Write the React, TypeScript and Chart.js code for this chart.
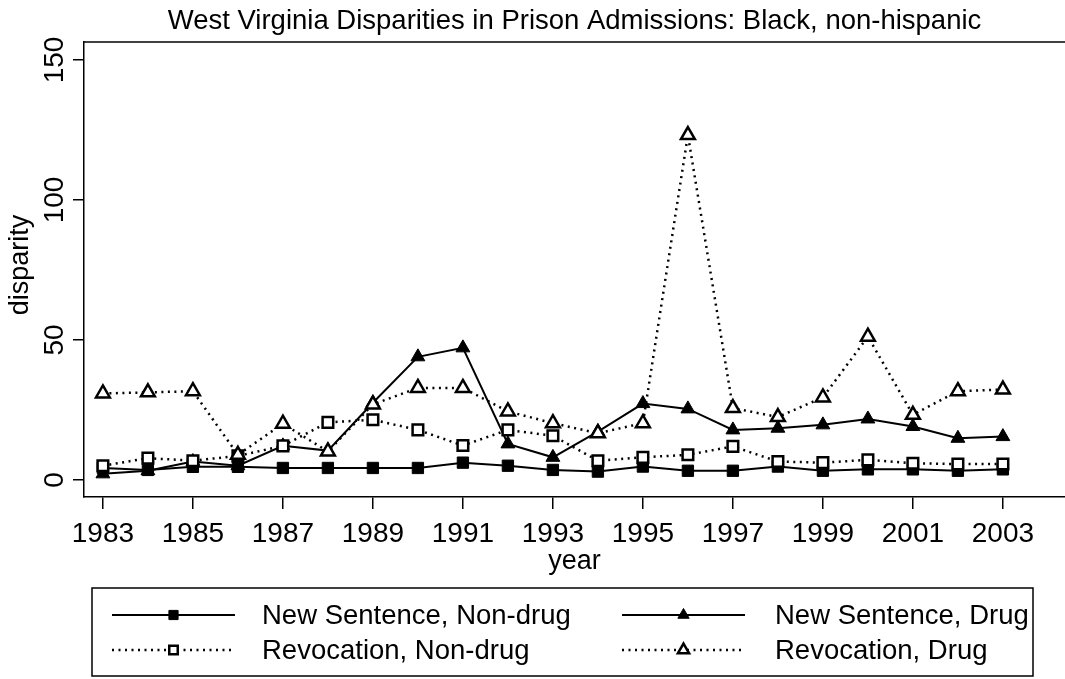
import { useEffect, useRef } from "react";
import { Chart, registerables } from "chart.js";
import { drawPoint } from "chart.js/helpers";

Chart.register(...registerables);

const chartTitle = "West Virginia Disparities in Prison Admissions: Black, non-hispanic";
const xAxisTitle = "year";
const yAxisTitle = "disparity";

const years = [
  1983, 1984, 1985, 1986, 1987, 1988, 1989, 1990, 1991, 1992, 1993,
  1994, 1995, 1996, 1997, 1998, 1999, 2000, 2001, 2002, 2003,
];
const newSentenceNonDrug = [
  4.3, 3.6, 4.7, 4.7, 4.3, 4.3, 4.3, 4.3, 6.2, 5.1, 3.6,
  3.0, 4.8, 3.3, 3.3, 4.8, 3.3, 3.8, 3.8, 3.3, 3.8,
];
const newSentenceDrug = [
  2.2, 3.3, 6.6, 5.1, 12.2, 10.5, 27.6, 44.0, 47.2, 12.9, 8.1,
  17.3, 27.3, 25.4, 17.9, 18.5, 19.7, 21.8, 19.1, 14.9, 15.5,
];
const revocationNonDrug = [
  5.1, 7.8, 6.9, 8.6, 12.2, 20.6, 21.5, 17.9, 12.3, 17.9, 15.8,
  6.9, 8.1, 9.0, 12.0, 6.6, 6.2, 7.2, 6.0, 5.7, 5.7,
];
const revocationDrug = [
  30.9, 31.3, 31.7, 9.0, 20.1, 10.2, 27.0, 32.9, 32.9, 24.5, 20.3,
  16.7, 20.3, 123.2, 25.7, 22.5, 29.5, 51.2, 23.3, 31.7, 32.3,
];
const seriesLabels = [
  "New Sentence, Non-drug",
  "New Sentence, Drug",
  "Revocation, Non-drug",
  "Revocation, Drug",
];
const xTicks = [1983, 1985, 1987, 1989, 1991, 1993, 1995, 1997, 1999, 2001, 2003];
const yTicks = [0, 50, 100, 150];

const FONT = '"Liberation Sans", Arial, Helvetica, sans-serif';

const decorPlugin = {
  id: "decor",
  afterDraw(chart: any) {
    const ctx = chart.ctx as CanvasRenderingContext2D;
    const area = chart.chartArea;
    const xs = chart.scales.x;
    const ys = chart.scales.y;
    ctx.save();

    // keep the right side of the plot region open (no frame line there)
    ctx.fillStyle = "#fff";
    ctx.fillRect(area.right - 4, area.top + 1, chart.width - area.right + 8, area.bottom - area.top - 2);

    ctx.fillStyle = "#000";
    ctx.strokeStyle = "#000";

    // top frame line
    ctx.lineWidth = 1.5;
    ctx.beginPath();
    ctx.moveTo(area.left, area.top);
    ctx.lineTo(chart.width, area.top);
    ctx.stroke();

    const cx = (area.left + chart.width) / 2;

    // title
    ctx.font = `27.5px ${FONT}`;
    ctx.textAlign = "center";
    ctx.textBaseline = "alphabetic";
    ctx.fillText(chartTitle, cx, 29);

    // x tick labels
    ctx.font = `28px ${FONT}`;
    xTicks.forEach((v) => {
      ctx.fillText(String(v), xs.getPixelForValue(v), 542);
    });

    // x title
    ctx.font = `27px ${FONT}`;
    ctx.fillText(xAxisTitle, cx, 569);

    // y tick labels (rotated)
    ctx.font = `28px ${FONT}`;
    yTicks.forEach((v) => {
      ctx.save();
      ctx.translate(63, ys.getPixelForValue(v));
      ctx.rotate(-Math.PI / 2);
      ctx.fillText(String(v), 0, 0);
      ctx.restore();
    });

    // y title
    ctx.save();
    ctx.font = `27px ${FONT}`;
    ctx.translate(28, 265);
    ctx.rotate(-Math.PI / 2);
    ctx.fillText(yAxisTitle, 0, 0);
    ctx.restore();

    // legend
    const boxL = 92, boxR = 1033, boxT = 588, boxB = 676;
    ctx.lineWidth = 1.5;
    ctx.strokeRect(boxL, boxT, boxR - boxL, boxB - boxT);
    const rowsY = [615, 650];
    const colKeyStart = [112, 622];
    const keyLen = 123;
    const colText = [262, 775];
    ctx.font = `27.5px ${FONT}`;
    ctx.textAlign = "left";
    ctx.textBaseline = "middle";
    chart.data.datasets.forEach((ds: any, i: number) => {
      const col = i % 2;
      const row = Math.floor(i / 2);
      const y = rowsY[row];
      const x0 = colKeyStart[col];
      ctx.save();
      ctx.strokeStyle = ds.borderColor;
      ctx.lineWidth = ds.borderWidth;
      ctx.setLineDash(ds.borderDash || []);
      ctx.beginPath();
      ctx.moveTo(x0, y);
      ctx.lineTo(x0 + keyLen, y);
      ctx.stroke();
      ctx.setLineDash([]);
      ctx.fillStyle = ds.pointBackgroundColor;
      ctx.strokeStyle = ds.pointBorderColor;
      ctx.lineWidth = ds.pointBorderWidth;
      drawPoint(
        ctx,
        { pointStyle: ds.pointStyle, rotation: 0, borderWidth: ds.pointBorderWidth, radius: ds.pointRadius - 1.5 } as any,
        x0 + keyLen / 2,
        y
      );
      ctx.restore();
      ctx.fillStyle = "#000";
      ctx.fillText(seriesLabels[i], colText[col], y + 1);
    });

    ctx.restore();
  },
};

export default function App() {
  const canvasRef = useRef<HTMLCanvasElement | null>(null);

  useEffect(() => {
    const canvas = canvasRef.current;
    if (!canvas) return;
    const mk = (vals: number[]) => years.map((y, i) => ({ x: y, y: vals[i] }));
    const chart = new Chart(canvas, {
      type: "line",
      data: {
        datasets: [
          {
            label: seriesLabels[0],
            data: mk(newSentenceNonDrug),
            borderColor: "#000",
            borderWidth: 2,
            pointStyle: "rect",
            pointRadius: 8,
            pointBackgroundColor: "#000",
            pointBorderColor: "#000",
            pointBorderWidth: 1,
            tension: 0,
            order: 3,
          },
          {
            label: seriesLabels[1],
            data: mk(newSentenceDrug),
            borderColor: "#000",
            borderWidth: 2,
            pointStyle: "triangle",
            pointRadius: 8,
            pointBackgroundColor: "#000",
            pointBorderColor: "#000",
            pointBorderWidth: 1,
            tension: 0,
            order: 2,
          },
          {
            label: seriesLabels[2],
            data: mk(revocationNonDrug),
            borderColor: "#000",
            borderWidth: 2.5,
            borderDash: [2, 4.5],
            pointStyle: "rect",
            pointRadius: 7.5,
            pointBackgroundColor: "#fff",
            pointBorderColor: "#000",
            pointBorderWidth: 2.5,
            tension: 0,
            order: 1,
          },
          {
            label: seriesLabels[3],
            data: mk(revocationDrug),
            borderColor: "#000",
            borderWidth: 2.5,
            borderDash: [2, 4.5],
            pointStyle: "triangle",
            pointRadius: 8,
            pointBackgroundColor: "#fff",
            pointBorderColor: "#000",
            pointBorderWidth: 2.5,
            tension: 0,
            order: 0,
          },
        ] as any,
      },
      options: {
        responsive: false,
        animation: false,
        devicePixelRatio: 1,
        layout: { autoPadding: false, padding: { top: 42, right: 0, bottom: 0, left: 0 } },
        plugins: {
          legend: { display: false },
          tooltip: { enabled: false },
          title: { display: false },
        },
        scales: {
          x: {
            type: "linear",
            min: 1982.58,
            max: 2004.38,
            afterBuildTicks: (s: any) => {
              s.ticks = xTicks.map((v) => ({ value: v }));
            },
            afterFit: (s: any) => {
              s.height = 182;
            },
            ticks: { display: false },
            grid: {
              drawOnChartArea: false,
              drawTicks: true,
              tickLength: 12,
              color: "#000",
              lineWidth: 1.5,
            },
            border: { display: true, color: "#000", width: 1.5 },
          },
          y: {
            type: "linear",
            min: -6.07,
            max: 156.43,
            afterBuildTicks: (s: any) => {
              s.ticks = yTicks.map((v) => ({ value: v }));
            },
            afterFit: (s: any) => {
              s.width = 84;
            },
            ticks: { display: false },
            grid: {
              drawOnChartArea: false,
              drawTicks: true,
              tickLength: 11,
              color: "#000",
              lineWidth: 1.5,
            },
            border: { display: true, color: "#000", width: 1.5 },
          },
        },
      } as any,
      plugins: [decorPlugin],
    });
    return () => chart.destroy();
  }, []);

  return (
    <div style={{ position: "fixed", left: 0, top: 0, width: 1065, height: 679, background: "#fff" }}>
      <canvas ref={canvasRef} width={1065} height={679} style={{ display: "block", width: 1065, height: 679 }} />
    </div>
  );
}
